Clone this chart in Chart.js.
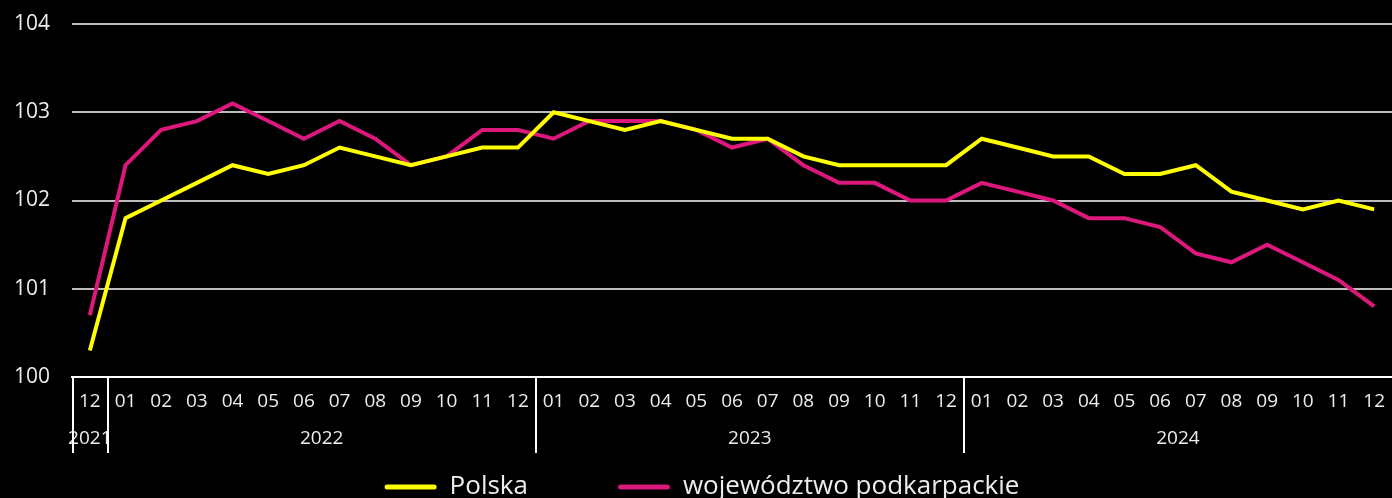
<!DOCTYPE html>
<html><head><meta charset="utf-8">
<script src="https://cdn.jsdelivr.net/npm/chart.js@4"></script>
<style>html,body{margin:0;padding:0;background:#000;}#wrap{width:1392px;height:498px;}</style>
</head><body><div id="wrap"><canvas id="c" width="1392" height="498"></canvas></div>
<script>
const months = ['12','01','02','03','04','05','06','07','08','09','10','11','12','01','02','03','04','05','06','07','08','09','10','11','12','01','02','03','04','05','06','07','08','09','10','11','12'];
const years = ['2021','2022','2023','2024'];
const yearMonthCounts = [1,12,12,12];
const polska = [100.3, 101.8,102.0,102.2,102.4,102.3,102.4,102.6,102.5,102.4,102.5,102.6,102.6, 103.0,102.9,102.8,102.9,102.8,102.7,102.7,102.5,102.4,102.4,102.4,102.4, 102.7,102.6,102.5,102.5,102.3,102.3,102.4,102.1,102.0,101.9,102.0,101.9];
const podkarpackie = [100.7, 102.4,102.8,102.9,103.1,102.9,102.7,102.9,102.7,102.4,102.5,102.8,102.8, 102.7,102.9,102.9,102.9,102.8,102.6,102.7,102.4,102.2,102.2,102.0,102.0, 102.2,102.1,102.0,101.8,101.8,101.7,101.4,101.3,101.5,101.3,101.1,100.8];
const seriesNames = ['Polska','województwo podkarpackie'];
const yMin = 100, yMax = 104, yStep = 1;

const YELLOW = '#FFFF00', PINK = '#DC187C', TXT = '#EDEDED';
const FONT = "'Open Sans',sans-serif";
const LEGEND_FONT = 26, LEGEND_PAD = 90, LEGEND_TEXT_Y = 487, LEGEND_SHIFT_X = 6;

const yearAxis = {
  id: 'yearAxis',
  beforeDraw(chart) {
    const lg = chart.legend;
    if (lg) {
      lg.top = LEGEND_TEXT_Y - LEGEND_PAD - LEGEND_FONT / 2;
      lg.bottom = chart.height;
      lg.left += LEGEND_SHIFT_X; lg.right += LEGEND_SHIFT_X;
    }
  },
  afterDraw(chart) {
    const x = chart.scales.x, ca = chart.chartArea, ctx = chart.ctx;
    const half = (x.getPixelForValue(1) - x.getPixelForValue(0)) / 2;
    ctx.save();
    ctx.strokeStyle = '#FFFFFF'; ctx.lineWidth = 2;
    ctx.fillStyle = TXT; ctx.font = "19px " + FONT;
    ctx.textAlign = 'center'; ctx.textBaseline = 'middle';
    let idx = 0;
    const bounds = [x.getPixelForValue(0) - half];
    years.forEach((y, i) => {
      const start = idx, end = idx + yearMonthCounts[i] - 1;
      const l = x.getPixelForValue(start) - half, r = x.getPixelForValue(end) + half;
      bounds.push(r);
      ctx.fillText(y, (l + r) / 2, ca.bottom + 62);
      idx += yearMonthCounts[i];
    });
    bounds.forEach(b => {
      if (b > ca.right - 2) return;
      const bx = Math.max(Math.round(b), ca.left + 1);
      ctx.beginPath(); ctx.moveTo(bx, ca.bottom); ctx.lineTo(bx, ca.bottom + 76); ctx.stroke();
    });
    ctx.restore();
  }
};

new Chart(document.getElementById('c'), {
  type: 'line',
  data: {
    labels: months,
    datasets: [
      {label: seriesNames[0], data: polska, borderColor: YELLOW, backgroundColor: YELLOW, borderWidth: 4, pointRadius: 0, tension: 0},
      {label: seriesNames[1], data: podkarpackie, borderColor: PINK, backgroundColor: PINK, borderWidth: 4, pointRadius: 0, tension: 0}
    ]
  },
  options: {
    responsive: false, animation: false, devicePixelRatio: 1,
    layout: {padding: {top: 24, right: 0, left: 0, bottom: 0}},
    plugins: {
      tooltip: {enabled: false},
      legend: {
        position: 'bottom', maxHeight: 40,
        labels: {
          color: TXT, font: {size: LEGEND_FONT, family: FONT},
          boxWidth: 52, boxHeight: 5, padding: LEGEND_PAD,
          generateLabels(chart) {
            return chart.data.datasets.map((d, i) => ({
              text: d.label, fillStyle: d.borderColor, strokeStyle: d.borderColor,
              lineWidth: 0, borderRadius: 2.5, fontColor: TXT, hidden: false, datasetIndex: i
            }));
          }
        }
      }
    },
    scales: {
      x: {
        type: 'category', offset: true,
        grid: {display: true, drawOnChartArea: false, drawTicks: true, tickLength: 13, tickColor: 'rgba(0,0,0,0)'},
        border: {display: true, color: '#FFFFFF', width: 2},
        ticks: {color: TXT, font: {size: 19, family: FONT}, padding: 0, maxRotation: 0, autoSkip: false},
        afterFit(s) { s.height = 81; }
      },
      y: {
        min: yMin, max: yMax,
        grid: {color: c => c.tick && c.tick.value === yMin ? 'rgba(0,0,0,0)' : '#BDBDBD', lineWidth: 2, drawTicks: true, tickLength: 22, tickColor: 'rgba(0,0,0,0)'},
        border: {display: false},
        ticks: {stepSize: yStep, color: TXT, font: {size: 21, family: FONT}, padding: 0},
        afterFit(s) { s.width = 72; }
      }
    }
  },
  plugins: [yearAxis]
});
</script></body></html>
